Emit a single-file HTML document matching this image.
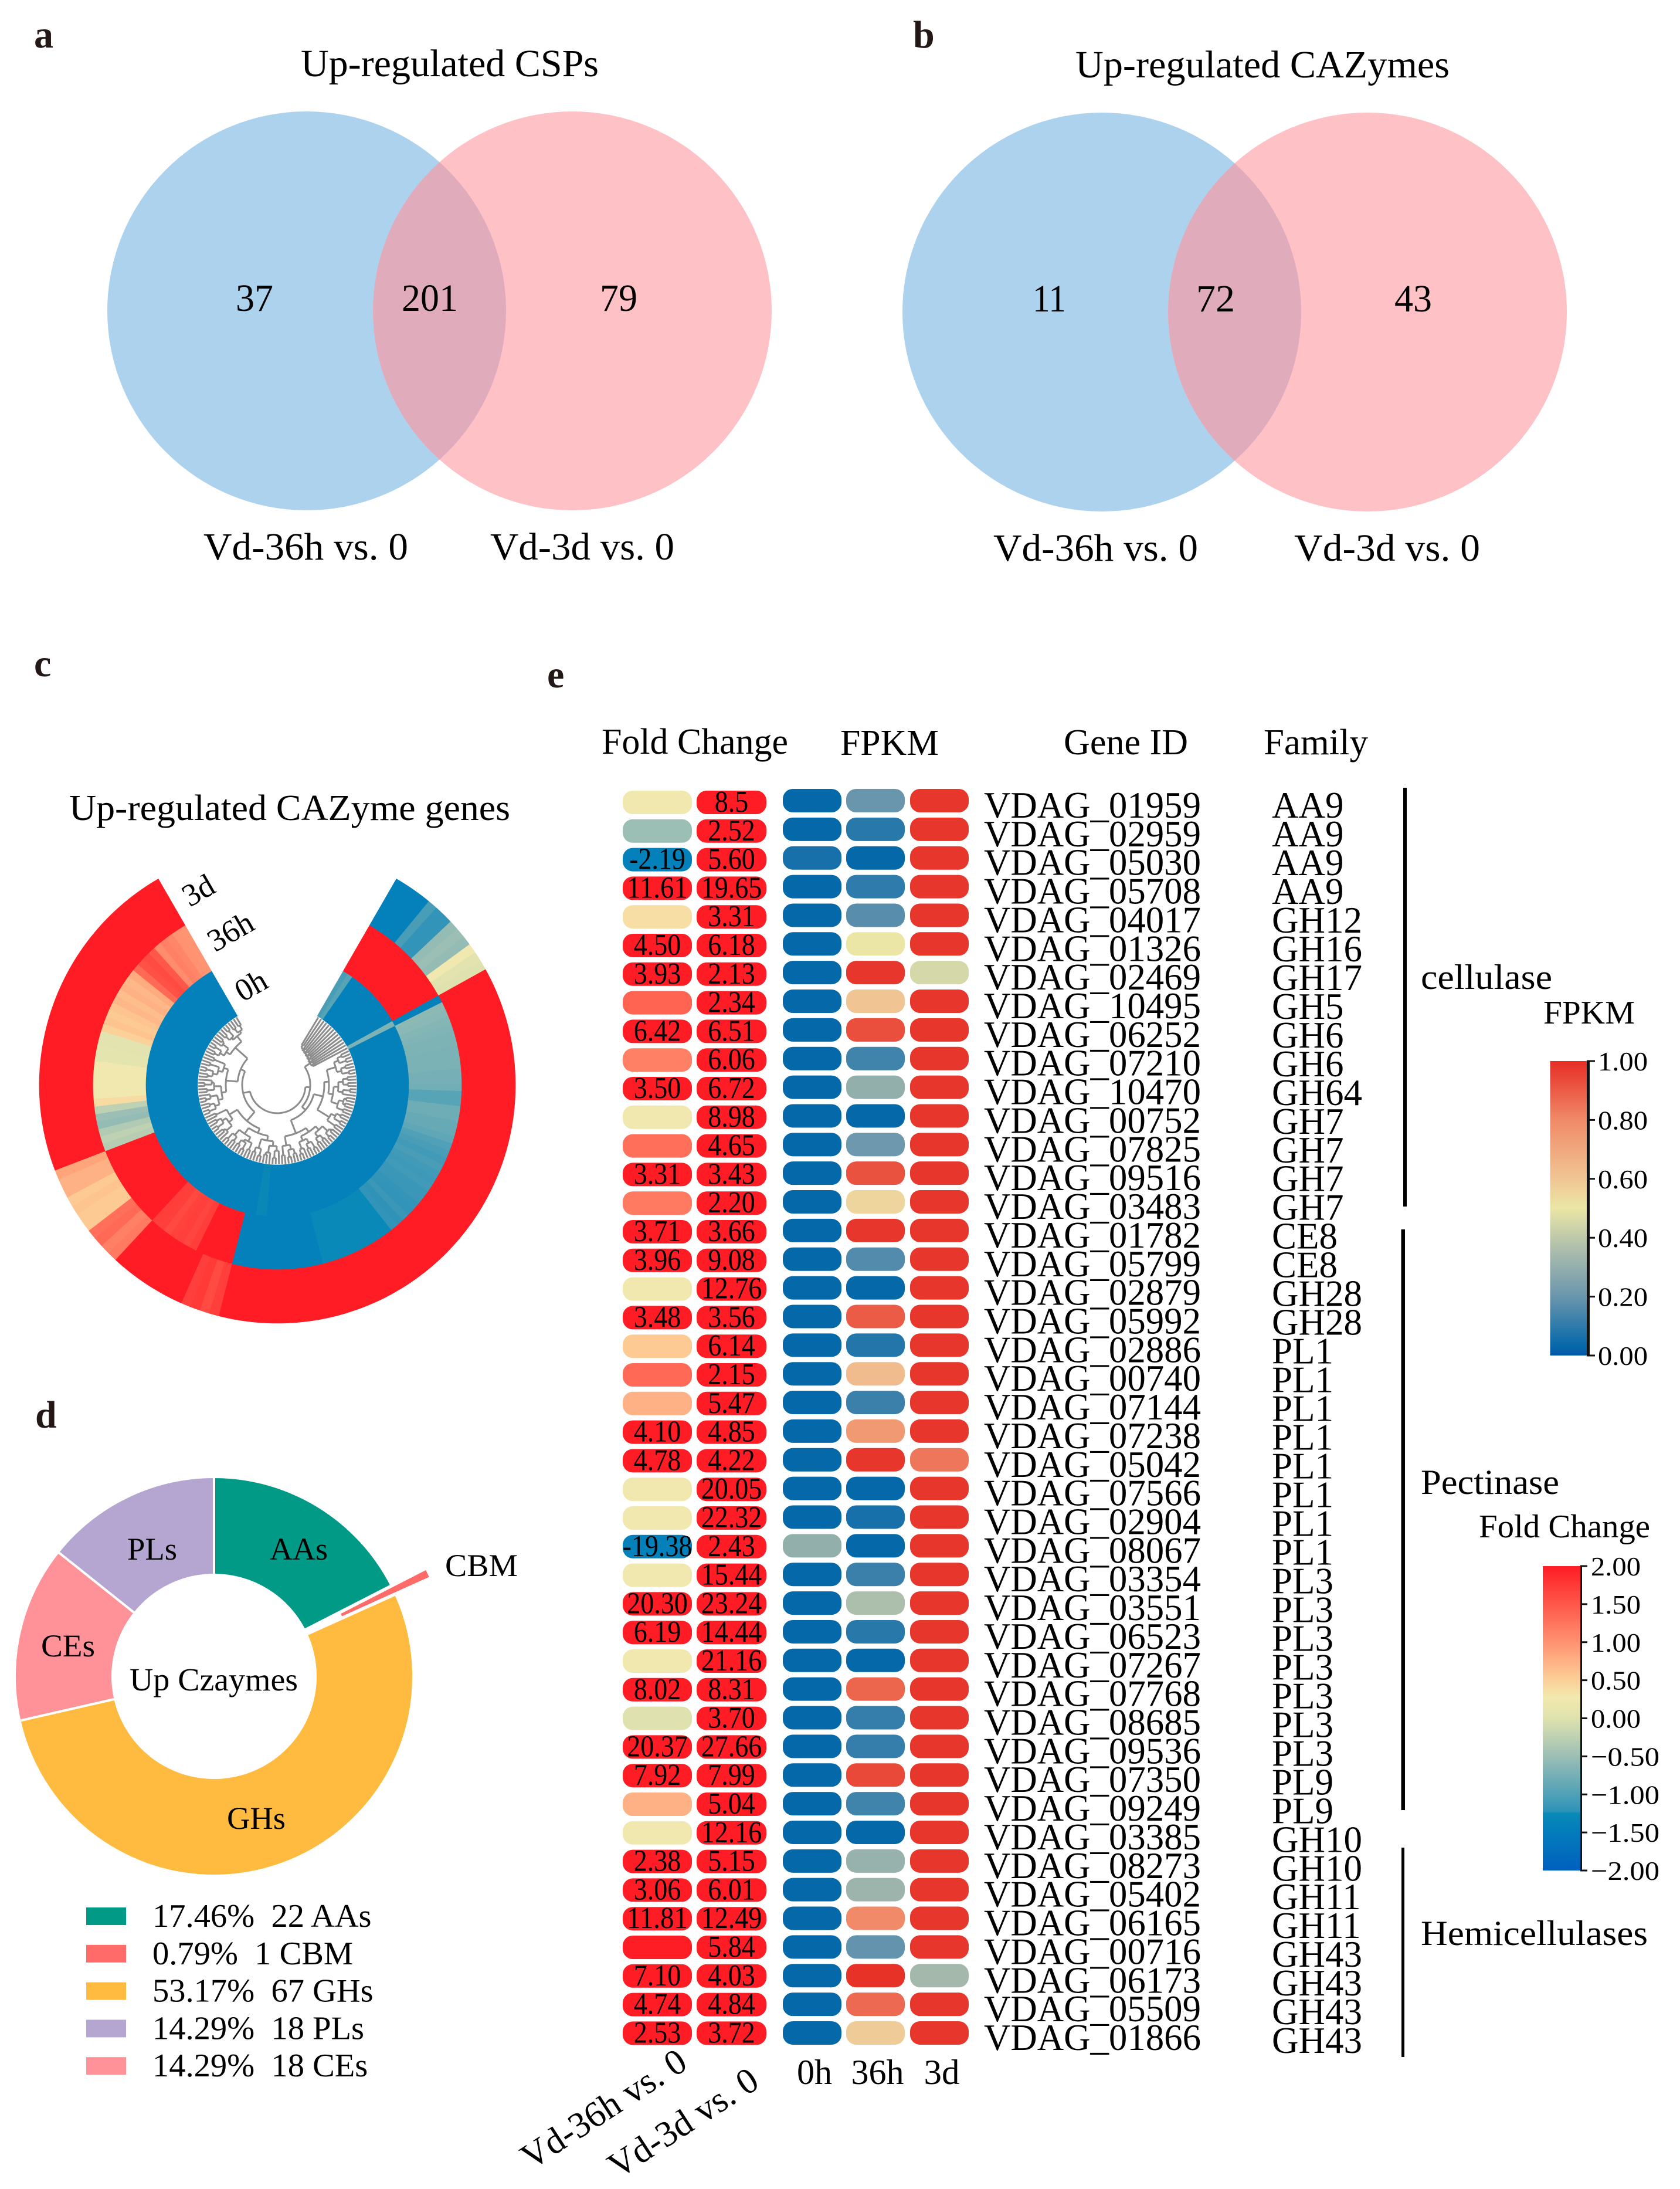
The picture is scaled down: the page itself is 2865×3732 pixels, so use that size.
<!DOCTYPE html>
<html lang="en">
<head>
<meta charset="utf-8">
<title>Up-regulated CSPs and CAZymes</title>
<style>
html,body{margin:0;padding:0;background:#fff}
svg{display:block;font-family:"Liberation Serif","Times New Roman",serif;fill:#000}
.lab{font-weight:bold;fill:#231815;font-size:66px}
.t{font-size:66px}
</style>
</head>
<body>
<svg id="fig" xmlns="http://www.w3.org/2000/svg" width="2865" height="3732" viewBox="0 0 2865 3732">
<defs>
  <clipPath id="clip-a"><circle cx="523" cy="530" r="340"/></clipPath>
  <clipPath id="clip-b"><circle cx="1879" cy="532" r="340"/></clipPath>
  <linearGradient id="grad-fpkm" x1="0" y1="1" x2="0" y2="0"></linearGradient>
  <linearGradient id="grad-fc" x1="0" y1="1" x2="0" y2="0"></linearGradient>
</defs>
<rect width="2865" height="3732" fill="#fff"/>

<!-- Panel a -->
<g>
  <text class="lab" x="58" y="81">a</text>
  <text class="t" x="513" y="130" textLength="508" lengthAdjust="spacingAndGlyphs">Up-regulated CSPs</text>
  <circle cx="523" cy="530" r="340" fill="#acd2ee"/>
  <circle cx="976" cy="530" r="340" fill="#fec1c6"/>
  <circle cx="976" cy="530" r="340" fill="#e0acbc" clip-path="url(#clip-a)"/>
  <text class="t" x="402" y="530" textLength="64" lengthAdjust="spacingAndGlyphs">37</text>
  <text class="t" x="685" y="530" textLength="96" lengthAdjust="spacingAndGlyphs">201</text>
  <text class="t" x="1023" y="530" textLength="64" lengthAdjust="spacingAndGlyphs">79</text>
  <text class="t" x="347" y="954" textLength="349" lengthAdjust="spacingAndGlyphs">Vd-36h vs. 0</text>
  <text class="t" x="836" y="954" textLength="314" lengthAdjust="spacingAndGlyphs">Vd-3d vs. 0</text>
</g>

<!-- Panel b -->
<g>
  <text class="lab" x="1557" y="81">b</text>
  <text class="t" x="1834" y="132" textLength="638" lengthAdjust="spacingAndGlyphs">Up-regulated CAZymes</text>
  <circle cx="1879" cy="532" r="340" fill="#acd2ee"/>
  <circle cx="2332" cy="532" r="340" fill="#fec1c6"/>
  <circle cx="2332" cy="532" r="340" fill="#e0acbc" clip-path="url(#clip-b)"/>
  <text class="t" x="1761" y="531" textLength="57" lengthAdjust="spacingAndGlyphs">11</text>
  <text class="t" x="2040" y="531" textLength="66" lengthAdjust="spacingAndGlyphs">72</text>
  <text class="t" x="2378" y="531" textLength="64" lengthAdjust="spacingAndGlyphs">43</text>
  <text class="t" x="1694" y="956" textLength="349" lengthAdjust="spacingAndGlyphs">Vd-36h vs. 0</text>
  <text class="t" x="2207" y="956" textLength="317" lengthAdjust="spacingAndGlyphs">Vd-3d vs. 0</text>
</g>

<!-- Panel c -->
<g>
  <text class="lab" x="58" y="1153">c</text>
  <text class="t" x="118" y="1398" textLength="752" lengthAdjust="spacingAndGlyphs" style="font-size:62px">Up-regulated CAZyme genes</text>
  <g id="rings"></g>
  <path id="tree" fill="none" stroke="#8c8c8c" stroke-width="3"/>
  <text x="338" y="1518" font-size="54" text-anchor="middle" dominant-baseline="central" transform="rotate(-30 338 1518)">3d</text>
  <text x="393" y="1588" font-size="54" text-anchor="middle" dominant-baseline="central" transform="rotate(-30 393 1588)">36h</text>
  <text x="428" y="1680" font-size="54" text-anchor="middle" dominant-baseline="central" transform="rotate(-30 428 1680)">0h</text>
</g>

<!-- Panel d -->
<g>
  <text class="lab" x="60" y="2434">d</text>
  <g id="donut"></g>
  <text x="460" y="2659" font-size="54" textLength="99" lengthAdjust="spacingAndGlyphs">AAs</text>
  <text x="217" y="2659" font-size="54" textLength="85" lengthAdjust="spacingAndGlyphs">PLs</text>
  <text x="70" y="2824" font-size="54" textLength="92" lengthAdjust="spacingAndGlyphs">CEs</text>
  <text x="387" y="3118" font-size="54" textLength="100" lengthAdjust="spacingAndGlyphs">GHs</text>
  <text x="759" y="2687" font-size="54" textLength="124" lengthAdjust="spacingAndGlyphs">CBM</text>
  <text x="221" y="2882" font-size="55" textLength="287" lengthAdjust="spacingAndGlyphs">Up Czaymes</text>
  <g id="donut-legend"></g>
</g>

<!-- Panel e -->
<g>
  <text class="lab" x="933" y="1172">e</text>
  <text x="1026" y="1285" font-size="62" textLength="318" lengthAdjust="spacingAndGlyphs">Fold Change</text>
  <text x="1433" y="1287" font-size="62" textLength="168" lengthAdjust="spacingAndGlyphs">FPKM</text>
  <text x="1814" y="1286" font-size="62" textLength="212" lengthAdjust="spacingAndGlyphs">Gene ID</text>
  <text x="2155" y="1286" font-size="62" textLength="178" lengthAdjust="spacingAndGlyphs">Family</text>
  <g id="heat"></g>
  <text x="1175.5" y="3525" font-size="62" text-anchor="end" transform="rotate(-33 1175.5 3525)">Vd-36h vs. 0</text>
  <text x="1298" y="3557" font-size="62" text-anchor="end" transform="rotate(-33 1298 3557)">Vd-3d vs. 0</text>
  <text x="1359" y="3553" font-size="60" textLength="60" lengthAdjust="spacingAndGlyphs">0h</text>
  <text x="1451.5" y="3553" font-size="60" textLength="90" lengthAdjust="spacingAndGlyphs">36h</text>
  <text x="1575.5" y="3553" font-size="60" textLength="61" lengthAdjust="spacingAndGlyphs">3d</text>
  <rect x="2393" y="1343" width="6" height="714" fill="#000"/>
  <rect x="2389.5" y="2096" width="6.5" height="990" fill="#000"/>
  <rect x="2390" y="3150" width="5" height="357" fill="#000"/>
  <text x="2423" y="1686" font-size="60" textLength="224" lengthAdjust="spacingAndGlyphs">cellulase</text>
  <text x="2423" y="2547" font-size="60" textLength="236" lengthAdjust="spacingAndGlyphs">Pectinase</text>
  <text x="2423" y="3316" font-size="60" textLength="387" lengthAdjust="spacingAndGlyphs">Hemicellulases</text>
  <text x="2632" y="1745" font-size="56" textLength="156" lengthAdjust="spacingAndGlyphs">FPKM</text>
  <text x="2522" y="2621" font-size="56" textLength="292" lengthAdjust="spacingAndGlyphs">Fold Change</text>
  <g id="cbars"></g>
</g>
</svg>

<script>
// ---------- Panel c data (colour scale value per gene sector, clockwise from gap) ----------
const ring0h = [
-1.05,-.95,-2,-2,-2,-2,-2,-2,-2,-2,
-2,-2,-2,-.7,-2,-2,-2,-2,-2,-2,
-2,-2,-2,-2,-2,-2,-2,-2,-2,-2,
-2,-2,-2,-2,-2,-2,-2,-2,-2,-2,
-2,-2,-2,-2,-2,-2,-2,-2,-2,-2,
-2,-2,-2,-2,-2,-2,-2,-2,-2,-2,
-2,-2,-2,-2,-2,-1.28,-1.28,-2,-2,-2,
-2,-2,-2,-2,-2,-2,-2,-2,-2,-2,
-2,-2,-2,-2,-2,-2,-2,-2,-2,-2,
-2,-2,-2,-2,-2,-2,-2,-2,-2,-2,
-2,-2,-2,-2,-2,-2,-2,-2,-2,-2,
-2,-2,-2,-2,-2,-2,-2,-2,-2,-2,
-2,-2,-2,-2,-2,-2];
const ring36h = [
2,2,2,2,2,2,2,2,2,2,
2,2,2,-2,-.6,-.62,-.65,-.68,-.7,-.7,
-.72,-.72,-.72,-.75,-.75,-.78,-.95,-.95,-.8,-.8,
-.85,-.85,-.9,-1,-1.05,-1.1,-1.05,-1.1,-1.12,-1.1,
-1.15,-1.15,-1.18,-1.2,-1.15,-1.22,-1.2,-1.27,-1.27,-1.27,
-1.27,-1.27,-1.27,-1.27,-1.27,-1.27,-1.27,-2,-2,-2,
-2,-2,-2,-2,-2,-2,-2,-2,-2,2,
2,2,2,2,1.72,1.65,1.7,1.68,1.62,1.7,
1.72,2,2,2,2,2,2,2,2,2,
2,2,-.3,-.25,-.35,-.55,-.5,-.25,.4,.25,
.25,.25,.25,.25,.08,.08,.05,.05,.5,.6,
.55,.6,.7,.65,.75,.7,.8,1.35,1.55,1.6,
1.5,1.05,1.15,1.1,1,.98];
const ring3d = [
-2,-2,-2,-2,-1.05,-1.2,-1.2,-.55,-.5,-.55,
.25,.05,0,2,2,2,2,2,2,2,
2,2,2,2,2,2,2,2,2,2,
2,2,2,2,2,2,2,2,2,2,
2,2,2,2,2,2,2,2,2,2,
2,2,2,2,2,2,2,2,2,2,
2,2,2,2,2,2,2,2,2,1.7,
1.6,1.75,1.7,2,2,2,2,2,2,2,
2,1.2,1.15,1.35,1.3,.55,.55,.6,.55,.75,
.75,.85,2,2,2,2,2,2,2,2,
2,2,2,2,2,2,2,2,2,2,
2,2,2,2,2,2,2,2,2,2,
2,2,2,2,2,2];
// merge level between neighbouring leaves: 0 = root, larger = nearer the tips
const treeMerges = [
4,3.5,3.6,3.2,3.4,3,3.2,2.8,3,2.6,2.8,2.4,2.6,
1,
9,8,9.5,7,9,8,9.5,5,9,8,9,7,9.5,8,6,9,8.5,9,7.5,9,4,9,8,9.5,7,9,
2,
9,8.5,9.5,7,9,8,9,6,9.5,8,9,7,8.5,9.5,5,9,8,9.5,7,9,
0,
8,9.5,7,8.5,9,6,9.5,8,9,5,9,7.5,9.5,8,9,6.5,9,8,9.5,4,8.5,9,7,9.5,8,9,6,8.5,
1.5,
9.5,8,9,7,9.5,8.5,6,9,7.5,9.5,8,5,9,8,9.5,7,9,6,8.5,
2.5,
9,8,9.5,7,8.5,9,6,9,8,9.5,7.5,9,8,9];

// ---------- Panel d data ----------
const pieCategories = ['AAs','CBM','GHs','CEs','PLs'];
const pieCounts = [22,1,67,18,18];
const pieColors = ['#009a87','#ff6b68','#ffbb40','#ff9198','#b5a5d1'];
const legendOrder = [0,1,2,4,3];

// ---------- Panel e data ----------
const geneIds = ['01959','02959','05030','05708','04017','01326','02469','10495','06252','07210','10470','00752','07825','09516','03483','01782','05799','02879','05992','02886','00740','07144','07238','05042','07566','02904','08067','03354','03551','06523','07267','07768','08685','09536','07350','09249','03385','08273','05402','06165','00716','06173','05509','01866'];
const families = ['AA9','AA9','AA9','AA9','GH12','GH16','GH17','GH5','GH6','GH6','GH64','GH7','GH7','GH7','GH7','CE8','CE8','GH28','GH28','PL1','PL1','PL1','PL1','PL1','PL1','PL1','PL1','PL3','PL3','PL3','PL3','PL3','PL3','PL3','PL9','PL9','GH10','GH10','GH11','GH11','GH43','GH43','GH43','GH43'];
const fold36h = [.25,-.5,-2.19,11.61,.38,4.50,3.93,1.4,6.42,1.15,3.50,.25,1.3,3.31,1.2,3.71,3.96,.25,3.48,.55,1.35,.75,4.10,4.78,.25,.25,-19.38,.25,20.30,6.19,.25,8.02,0,20.37,7.92,.75,.25,2.38,3.06,11.81,1.99,7.10,4.74,2.53];
const fold3d = [8.5,2.52,5.60,19.65,3.31,6.18,2.13,2.34,6.51,6.06,6.72,8.98,4.65,3.43,2.20,3.66,9.08,12.76,3.56,6.14,2.15,5.47,4.85,4.22,20.05,22.32,2.43,15.44,23.24,14.44,21.16,8.31,3.70,27.66,7.99,5.04,12.16,5.15,6.01,12.49,5.84,4.03,4.84,3.72];
const fpkm0h = [.03,.03,.06,.03,.03,.03,.03,.03,.03,.03,.03,.03,.03,.03,.03,.03,.03,.03,.03,.03,.03,.03,.03,.03,.03,.03,.3,.03,.03,.03,.03,.03,.03,.03,.03,.03,.03,.03,.03,.03,.03,.03,.03,.03];
const fpkm36h = [.2,.09,.03,.1,.17,.5,.98,.6,.93,.13,.3,.03,.21,.92,.55,.98,.16,.03,.9,.08,.63,.12,.75,.98,.03,.06,.03,.12,.36,.09,.03,.88,.11,.11,.94,.13,.03,.31,.32,.8,.19,.99,.87,.58];
const fpkm3d = [.98,.98,.98,.98,.98,.98,.45,.98,.98,.98,.98,.98,.98,.98,.98,.98,.98,.98,.98,.98,.98,.98,.98,.84,.98,.98,.98,.98,.98,.98,.98,.98,.98,.98,.98,.98,.98,.98,.98,.98,.98,.34,.98,.98];
const oneDecimalValues = [8.5];

const fpkmTicks = [0,.2,.4,.6,.8,1];
const fpkmTickLabels = ['0.00','0.20','0.40','0.60','0.80','1.00'];
const foldTicks = [-2,-1.5,-1,-.5,0,.5,1,1.5,2];
const foldTickLabels = ['\u22122.00','\u22121.50','\u22121.00','\u22120.50','0.00','0.50','1.00','1.50','2.00'];

const fpkmStops = [[0,'#0358a8'],[.03,'#0568a9'],[.2,'#6a96ad'],[.35,'#a8bbac'],[.5,'#ebe6a6'],[.6,'#f0c593'],[.8,'#f08a68'],[1,'#e62d25']];
const foldStops = [[-2,'#0060be'],[-1.4,'#0481bb'],[-1.25,'#0a8ab6'],[-1.22,'#2f93b8'],[-.5,'#9cbfb5'],[0,'#dfe2ae'],[.28,'#f2e9ae'],[.55,'#fdca94'],[1,'#ff9270'],[2,'#ff1c24']];

// ---------- helpers ----------
const NS = 'http://www.w3.org/2000/svg';
function mk(tag, parent){ const e = document.createElementNS(NS, tag); parent.appendChild(e); return e; }
function hex(c){ return [1,3,5].map(i => parseInt(c.substr(i,2),16)); }
function colorAt(stops, v){
  if (v <= stops[0][0]) return stops[0][1];
  for (let i = 1; i < stops.length; i++) {
    if (v <= stops[i][0]) {
      const t = (v - stops[i-1][0]) / (stops[i][0] - stops[i-1][0]);
      const a = hex(stops[i-1][1]), b = hex(stops[i][1]);
      return 'rgb(' + a.map((x,k) => Math.round(x + (b[k]-x)*t)).join(',') + ')';
    }
  }
  return stops[stops.length-1][1];
}
const foldColor = v => colorAt(foldStops, Math.max(v, -1.4));
const fpkmColor = v => colorAt(fpkmStops, v);

// ---------- Panel c: circular heatmap ----------
const CX = 473, CY = 1850, GAP_START = 30, SWEEP = 300;
const ringEdges = [136, 224, 314, 406];
const sectorCount = ring0h.length;
const angleOf = i => GAP_START + i * SWEEP / sectorCount;
function polar(r, deg){ const a = deg*Math.PI/180; return [CX + r*Math.sin(a), CY - r*Math.cos(a)]; }
function sector(r0, r1, a0, a1){
  const p = polar(r0,a0), q = polar(r1,a0), s = polar(r1,a1), t = polar(r0,a1);
  return `M${p[0].toFixed(2)} ${p[1].toFixed(2)}L${q[0].toFixed(2)} ${q[1].toFixed(2)}A${r1} ${r1} 0 0 1 ${s[0].toFixed(2)} ${s[1].toFixed(2)}L${t[0].toFixed(2)} ${t[1].toFixed(2)}A${r0} ${r0} 0 0 0 ${p[0].toFixed(2)} ${p[1].toFixed(2)}Z`;
}
const ringsG = document.getElementById('rings');
[ring3d, ring36h, ring0h].forEach((series, ringIdx) => {
  const inner = ringEdges[2-ringIdx], outer = ringEdges[3-ringIdx];
  series.forEach((v, i) => {
    const p = mk('path', ringsG);
    p.setAttribute('d', sector(inner, outer, angleOf(i), angleOf(i+1)));
    p.setAttribute('fill', foldColor(v));
    p.setAttribute('stroke', foldColor(v));
    p.setAttribute('stroke-width', '0.6');
    
    
  });
});
// dendrogram from neighbour merge levels
const levelToR = lv => 48 + lv * 8;
const LEAF_R = 135;
let treeD = '';
function seg(r0, r1, a){ const p = polar(r0,a), q = polar(r1,a); treeD += `M${p[0].toFixed(1)} ${p[1].toFixed(1)}L${q[0].toFixed(1)} ${q[1].toFixed(1)}`; }
function arc(r, a0, a1){
  const p = polar(r,a0), q = polar(r,a1);
  treeD += `M${p[0].toFixed(1)} ${p[1].toFixed(1)}A${r} ${r} 0 ${a1-a0>180?1:0} 1 ${q[0].toFixed(1)} ${q[1].toFixed(1)}`;
}
function buildTree(lo, hi){
  if (lo === hi) return {a: angleOf(lo + .5), r: LEAF_R};
  let k = lo;
  for (let i = lo; i < hi; i++) if (treeMerges[i] < treeMerges[k]) k = i;
  const L = buildTree(lo, k), R = buildTree(k+1, hi), r = levelToR(treeMerges[k]);
  seg(L.r, r, L.a); seg(R.r, r, R.a); arc(r, L.a, R.a);
  return {a: (L.a + R.a)/2, r};
}
buildTree(0, treeMerges.length);
document.getElementById('tree').setAttribute('d', treeD);

// ---------- Panel d: donut ----------
const DCX = 365, DCY = 2858, DR = 340, Dr = 173, CBM_OFFSET = 66;
const total = pieCounts.reduce((a,b) => a+b, 0);
const donutG = document.getElementById('donut');
let cum = 0;
pieCounts.forEach((v, i) => {
  const a0 = cum/total*360, a1 = (cum+v)/total*360;
  cum += v;
  const mid = (a0+a1)/2*Math.PI/180;
  const off = pieCategories[i] === 'CBM' ? CBM_OFFSET : 0;
  const cx = DCX + off*Math.sin(mid), cy = DCY - off*Math.cos(mid);
  const pt = (r,d) => [cx + r*Math.sin(d*Math.PI/180), cy - r*Math.cos(d*Math.PI/180)];
  const p1 = pt(Dr,a0), p2 = pt(DR,a0), p3 = pt(DR,a1), p4 = pt(Dr,a1), big = a1-a0 > 180 ? 1 : 0;
  const s = mk('path', donutG);
  s.setAttribute('d', `M${p1}L${p2}A${DR} ${DR} 0 ${big} 1 ${p3}L${p4}A${Dr} ${Dr} 0 ${big} 0 ${p1}Z`);
  s.setAttribute('fill', pieColors[i]);
  s.setAttribute('stroke', '#fff');
  s.setAttribute('stroke-width', '4');
  
  
});
const legendG = document.getElementById('donut-legend');
legendOrder.forEach((idx, row) => {
  const y = 3267 + row * 63.8;
  const sw = mk('rect', legendG);
  sw.setAttribute('x', 147); sw.setAttribute('y', y-15); sw.setAttribute('width', 68); sw.setAttribute('height', 30);
  sw.setAttribute('fill', pieColors[idx]);
  
  
  const t = mk('text', legendG);
  t.setAttribute('x', 260); t.setAttribute('y', y+18); t.setAttribute('font-size', 56.5);
  t.setAttribute('style', 'white-space:pre');
  t.textContent = (pieCounts[idx]/total*100).toFixed(2) + '%  ' + pieCounts[idx] + ' ' + pieCategories[idx];
  
  
});

// ---------- Panel e: heatmap ----------
const heatG = document.getElementById('heat');
const FC_TOP = 1348, FP_TOP = 1345, PITCH = 48.8, FP_PITCH = 48.86, CELL_H = 40;
const rowY = (top, pitch, i) => top + i * pitch;
const charEm = ch => ch === '.' ? .25 : ch === '-' ? .333 : .5;
function fmtFold(v){ return oneDecimalValues.includes(v) ? String(v) : v.toFixed(2); }
function cell(x, y, w, fill){
  const r = mk('rect', heatG);
  r.setAttribute('x', x); r.setAttribute('y', y); r.setAttribute('width', w); r.setAttribute('height', CELL_H);
  r.setAttribute('rx', 17); r.setAttribute('fill', fill);
  return r;
}
function foldCell(x, w, i, v){
  const y = rowY(FC_TOP, PITCH, i);
  const r = cell(x, y, w, foldColor(v));
  
  
  if (Math.abs(v) >= 2) {
    const s = fmtFold(v);
    const len = [...s].reduce((a,c) => a + charEm(c), 0) * 46;
    const t = mk('text', heatG);
    t.setAttribute('x', x + w/2 - len/2); t.setAttribute('y', y + 36);
    t.setAttribute('font-size', 52);
    t.setAttribute('textLength', len); t.setAttribute('lengthAdjust', 'spacingAndGlyphs');
    t.textContent = s;
    
    
  }
}
geneIds.forEach((id, i) => {
  foldCell(1062, 118, i, fold36h[i]);
  foldCell(1188, 119, i, fold3d[i]);
  [[1335, fpkm0h], [1443, fpkm36h], [1552, fpkm3d]].forEach(col => {
    const r = cell(col[0], rowY(FP_TOP, FP_PITCH, i), 100, fpkmColor(col[1][i]));
    
    
  });
  const g = mk('text', heatG);
  g.setAttribute('x', 1678); g.setAttribute('y', 1394 + i*48.86);
  g.setAttribute('font-size', 64);
  g.setAttribute('textLength', 370); g.setAttribute('lengthAdjust', 'spacingAndGlyphs');
  g.textContent = 'VDAG_' + id;
  
  
  const f = mk('text', heatG);
  f.setAttribute('x', 2169); f.setAttribute('y', 1394 + i*48.98);
  f.setAttribute('font-size', 63);
  f.textContent = families[i];
  
  
});

// ---------- colour bars ----------
const cbarsG = document.getElementById('cbars');
function fillGradient(id, stops){
  const g = document.getElementById(id), lo = stops[0][0], hi = stops[stops.length-1][0];
  stops.forEach(s => {
    const st = mk('stop', g);
    st.setAttribute('offset', (s[0]-lo)/(hi-lo));
    st.setAttribute('stop-color', s[1]);
  });
}
fillGradient('grad-fpkm', fpkmStops);
fillGradient('grad-fc', foldStops);
function colorbar(x0, x1, y0, y1, grad, ticks, labels, axisW, tickEnd, labelX){
  const lo = ticks[0], hi = ticks[ticks.length-1];
  const yOf = v => y1 - (v-lo)/(hi-lo)*(y1-y0);
  const r = mk('rect', cbarsG);
  r.setAttribute('x', x0); r.setAttribute('y', y0); r.setAttribute('width', x1-x0); r.setAttribute('height', y1-y0);
  r.setAttribute('fill', 'url(#' + grad + ')');
  
  
  const ax = mk('rect', cbarsG);
  ax.setAttribute('x', x1); ax.setAttribute('y', y0-1); ax.setAttribute('width', axisW); ax.setAttribute('height', y1-y0+2);
  ax.setAttribute('fill', '#111');
  
  
  ticks.forEach((v, i) => {
    const y = yOf(v);
    const tk = mk('rect', cbarsG);
    tk.setAttribute('x', x1); tk.setAttribute('y', y-1.5); tk.setAttribute('width', tickEnd-x1); tk.setAttribute('height', 3);
    tk.setAttribute('fill', '#111');
    
    
    const t = mk('text', cbarsG);
    t.setAttribute('x', labelX); t.setAttribute('y', y + 16);
    t.setAttribute('font-size', 46);
    t.setAttribute('textLength', labels[i].length === 5 ? 117 : 85);
    t.setAttribute('lengthAdjust', 'spacingAndGlyphs');
    t.textContent = labels[i];
    
    
  });
}
colorbar(2643.5, 2706, 1809, 2311, 'grad-fpkm', fpkmTicks, fpkmTickLabels, 5, 2720, 2725);
colorbar(2631, 2695, 2670, 3189, 'grad-fc', foldTicks, foldTickLabels, 3, 2707, 2713);
</script>
</body>
</html>
